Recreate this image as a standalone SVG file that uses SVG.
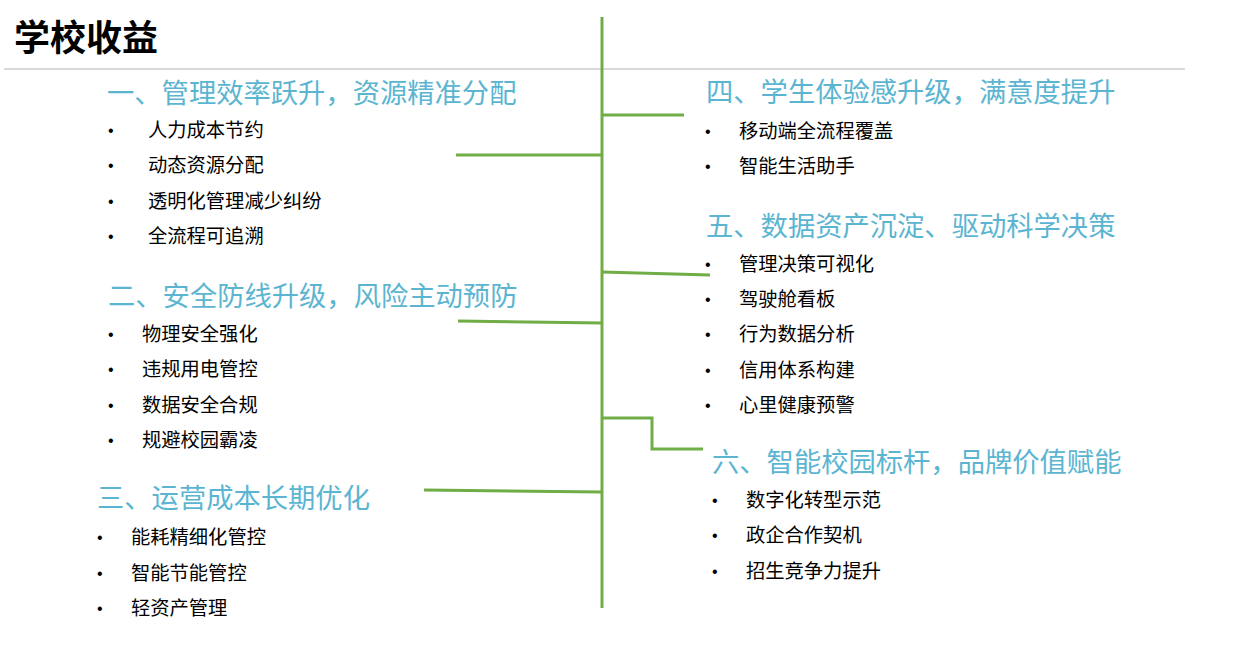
<svg xmlns="http://www.w3.org/2000/svg" width="1259" height="655" viewBox="0 0 1259 655">
<style>
.t{font-family:"Noto Sans CJK SC","Noto Sans",sans-serif;font-size:36px;font-weight:bold;fill:#000}
.h{font-family:"Noto Sans CJK SC",sans-serif;font-size:27.3px;fill:#5bb5d1}
.b{font-family:"Noto Sans CJK SC",sans-serif;font-size:19.3px;fill:#000}
.d{font-family:"Liberation Sans",sans-serif;font-size:16px;fill:#000}
.g{stroke:#70ad47;stroke-width:3;fill:none}
</style>
<rect width="1259" height="655" fill="#fff"/>
<text class="t" x="14" y="51">学校收益</text>
<line x1="4" y1="69" x2="1185" y2="69" stroke="#d9d9d9" stroke-width="2"/>
<g id="connectors">
<path class="g" d="M602 17V608"/>
<path class="g" d="M602 115H684"/>
<path class="g" d="M456 155H602"/>
<path class="g" d="M602 272L710 275"/>
<path class="g" d="M458 321L602 323"/>
<path class="g" d="M602 418H652V449H703"/>
<path class="g" d="M424 490L602 492"/>
</g>
<g id="n1"><text class="h" x="107" y="103">一、管理效率跃升，资源精准分配</text>
<g class="d"><text x="108" y="136">•</text><text x="108" y="171">•</text><text x="108" y="207">•</text><text x="108" y="242">•</text></g>
<text class="b" x="148" y="137">人力成本节约</text><text class="b" x="148" y="172">动态资源分配</text><text class="b" x="148" y="208">透明化管理减少纠纷</text><text class="b" x="148" y="243">全流程可追溯</text></g>
<g id="n2"><text class="h" x="108" y="306">二、安全防线升级，风险主动预防</text>
<g class="d"><text x="108" y="340">•</text><text x="108" y="375">•</text><text x="108" y="411">•</text><text x="108" y="446">•</text></g>
<text class="b" x="142" y="341">物理安全强化</text><text class="b" x="142" y="376">违规用电管控</text><text class="b" x="142" y="412">数据安全合规</text><text class="b" x="142" y="447">规避校园霸凌</text></g>
<g id="n3"><text class="h" x="97" y="508">三、运营成本长期优化</text>
<g class="d"><text x="97" y="543">•</text><text x="97" y="579">•</text><text x="97" y="614">•</text></g>
<text class="b" x="131" y="544">能耗精细化管控</text><text class="b" x="131" y="580">智能节能管控</text><text class="b" x="131" y="615">轻资产管理</text></g>
<g id="n4"><text class="h" x="706" y="102">四、学生体验感升级，满意度提升</text>
<g class="d"><text x="705" y="137">•</text><text x="705" y="172">•</text></g>
<text class="b" x="739" y="138">移动端全流程覆盖</text><text class="b" x="739" y="173">智能生活助手</text></g>
<g id="n5"><text class="h" x="706" y="236">五、数据资产沉淀、驱动科学决策</text>
<g class="d"><text x="705" y="270">•</text><text x="705" y="305">•</text><text x="705" y="340">•</text><text x="705" y="376">•</text><text x="705" y="411">•</text></g>
<text class="b" x="739" y="271">管理决策可视化</text><text class="b" x="739" y="306">驾驶舱看板</text><text class="b" x="739" y="341">行为数据分析</text><text class="b" x="739" y="377">信用体系构建</text><text class="b" x="739" y="412">心里健康预警</text></g>
<g id="n6"><text class="h" x="712" y="472">六、智能校园标杆，品牌价值赋能</text>
<g class="d"><text x="712" y="506">•</text><text x="712" y="541">•</text><text x="712" y="577">•</text></g>
<text class="b" x="746" y="507">数字化转型示范</text><text class="b" x="746" y="542">政企合作契机</text><text class="b" x="746" y="578">招生竞争力提升</text></g>
</svg>
